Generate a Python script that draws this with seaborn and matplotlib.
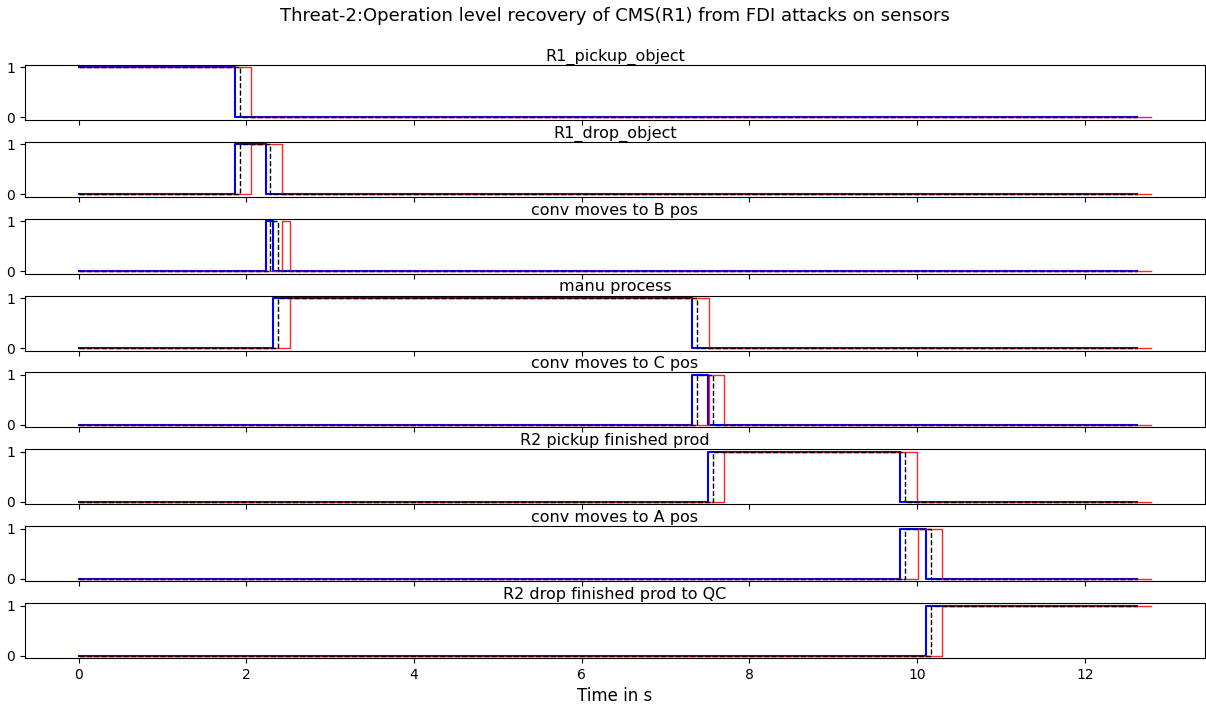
import matplotlib
matplotlib.use("Agg")
import matplotlib.pyplot as plt
import pandas as pd
import seaborn as sns

# ---------------------------------------------------------------------------
# Data: edge times (s) of each operation signal
# blue = recovered run, black dashed = nominal, red = attacked run
# ---------------------------------------------------------------------------
SIGNALS = [
    "R1_pickup_object",
    "R1_drop_object",
    "conv moves to B pos",
    "manu process",
    "conv moves to C pos",
    "R2 pickup finished prod",
    "conv moves to A pos",
    "R2 drop finished prod to QC",
]
INITIAL = [1, 0, 0, 0, 0, 0, 0, 0]

EDGES_BLUE = [
    [1.87], [1.87, 2.23], [2.23, 2.32], [2.32, 7.32],
    [7.32, 7.51], [7.51, 9.80], [9.80, 10.10], [10.10],
]
EDGES_BLACK = [
    [1.92], [1.92, 2.28], [2.28, 2.38], [2.38, 7.37],
    [7.37, 7.56], [7.57, 9.86], [9.86, 10.16], [10.16],
]
EDGES_RED = [
    [2.06], [2.06, 2.43], [2.43, 2.52], [2.52, 7.52],
    [7.52, 7.70], [7.70, 10.00], [10.01, 10.29], [10.29],
]
END_BLUE = 12.62
END_BLACK = 12.62
END_RED = 12.79

BLUE = "blue"
RED = "red"
BLACK = "black"


def step_frame(init, edges, t_end):
    """Turn a start value and toggle times into step points (steps-post)."""
    times = [0.0] + list(edges) + [t_end]
    vals = [init]
    for _ in edges:
        vals.append(1 - vals[-1])
    vals.append(vals[-1])
    return pd.DataFrame({"t": times, "v": vals})


fig, axes = plt.subplots(len(SIGNALS), 1, figsize=(12.06, 7.04), dpi=100, sharex=True)

for i, ax in enumerate(axes):
    for edges, t_end, color, lw, ls, alpha in [
        (EDGES_BLUE[i], END_BLUE, BLUE, 1.5, "-", 1.0),
        (EDGES_RED[i], END_RED, RED, 1.0, "-", 0.85),
        (EDGES_BLACK[i], END_BLACK, BLACK, 1.0, "--", 1.0),
    ]:
        df = step_frame(INITIAL[i], edges, t_end)
        sns.lineplot(data=df, x="t", y="v", ax=ax, color=color, linewidth=lw,
                     linestyle=ls, alpha=alpha, drawstyle="steps-post",
                     estimator=None, sort=False, legend=False)
    ax.set_title(SIGNALS[i], fontsize=11.5, pad=3)
    ax.set_yticks([0, 1])
    ax.set_ylabel("")
    ax.set_xlabel("")

axes[-1].set_xticks([0, 2, 4, 6, 8, 10, 12])
axes[-1].set_xlabel("Time in s", fontsize=12)
# centred over the axes rather than the figure, as in the reference
fig.suptitle("Threat-2:Operation level recovery of CMS(R1) from FDI attacks on sensors",
             fontsize=13, x=0.51, y=0.99)
fig.subplots_adjust(left=0.0207, right=0.999, top=0.9077, bottom=0.0653, hspace=0.40)
fig.savefig("out.png", dpi=100)
